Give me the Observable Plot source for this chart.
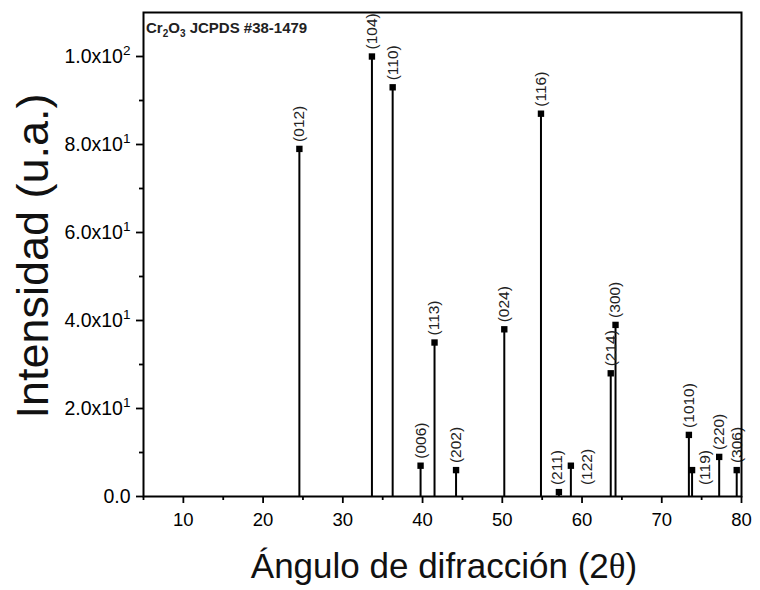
<!DOCTYPE html>
<html><head><meta charset="utf-8">
<script src="https://cdn.jsdelivr.net/npm/d3@7"></script>
<script src="https://cdn.jsdelivr.net/npm/@observablehq/plot@0.6"></script>
<style>body{margin:0;background:#fff;} svg{overflow:visible;}</style>
</head><body><div id="chart"></div>
<script>
const planes = ["(012)","(104)","(110)","(006)","(113)","(202)","(024)","(116)","(211)","(122)","(214)","(300)","(1010)","(119)","(220)","(306)"];
const twoTheta = [24.55,33.65,36.25,39.75,41.5,44.2,50.25,54.85,57.1,58.6,63.6,64.2,73.4,73.8,77.2,79.4];
const intensity = [79,100,93,7,35,6,38,87,1,7,28,39,14,6,9,6];
const labelX = [24.55,33.65,36.25,39.75,41.5,44.2,50.25,54.85,56.9,60.6,63.6,64.2,73.4,75.4,77.2,79.4];
const labelY = [79,100,93,7,35,6,38,87,1,1,28,39,14,1,9,6];
const xTicks = [10,20,30,40,50,60,70,80];
const xMinor = [5,15,25,35,45,55,65,75];
const yTicks = [0,20,40,60,80,100];
const yMinor = [10,30,50,70,90];
const yTickMantissa = ["0.0","2.0","4.0","6.0","8.0","1.0"];
const yTickExponent = ["","1","1","1","1","2"];

const peaks = planes.map((p,i)=>({plane:p, x:twoTheta[i], y:intensity[i], lx:labelX[i], ly:labelY[i]}));
const ff = "'Liberation Sans', Arial, sans-serif";

const chart = Plot.plot({
  width: 760, height: 590,
  marginLeft: 143, marginRight: 19, marginTop: 12, marginBottom: 94,
  style: {fontFamily: ff, background: "#fff", overflow: "visible"},
  x: {domain: [5, 80]},
  y: {domain: [0, 110]},
  marks: [
    Plot.ruleX(peaks, {x: "x", y1: 0, y2: "y", stroke: "#000", strokeWidth: 2}),
    Plot.dot(peaks, {x: "x", y: "y", symbol: "square", r: 3.6, fill: "#000", stroke: null}),
    Plot.text(peaks, {x: "lx", y: "ly", text: "plane", rotate: -90, textAnchor: "start", dy: -7, fontSize: 15.5, fill: "#222", clip: false}),
    Plot.axisX({ticks: xTicks, tickSize: 7, tickPadding: 9, fontSize: 18.5, strokeWidth: 1.8, label: null}),
    Plot.axisX({ticks: xMinor, tickSize: 4, text: null, strokeWidth: 1.8, label: null}),
    Plot.axisY({ticks: yTicks, tickSize: 7, tickPadding: 6, fontSize: 19.5, strokeWidth: 1.8, label: null,
      tickFormat: (d) => { const i = yTicks.indexOf(d); return yTickExponent[i] ? yTickMantissa[i] + "x10^" + yTickExponent[i] : yTickMantissa[i]; }}),
    Plot.axisY({ticks: yMinor, tickSize: 4, text: null, strokeWidth: 1.8, label: null}),
    Plot.frame({stroke: "#000", strokeWidth: 2})
  ]
});
document.getElementById("chart").appendChild(chart);

const svg = d3.select(chart);
// rebuild y tick labels with real superscripts
svg.selectAll("text").each(function() {
  const el = d3.select(this);
  const s = el.text();
  const m = /^(.*x10)\^(\d)$/.exec(s);
  if (m) {
    el.text("");
    el.append("tspan").text(m[1]);
    el.append("tspan").text(m[2]).attr("font-size", 13.5).attr("dy", "-0.55em");
  }
});
// inset title
const t = svg.append("text").attr("x", 146).attr("y", 33).attr("text-anchor", "start").attr("font-family", ff)
  .attr("font-size", 15).attr("font-weight", "bold").attr("fill", "#222");
t.append("tspan").text("Cr");
t.append("tspan").text("2").attr("font-size", 10).attr("dy", 4);
t.append("tspan").text("O").attr("dy", -4);
t.append("tspan").text("3").attr("font-size", 10).attr("dy", 4);
t.append("tspan").text(" JCPDS #38-1479").attr("dy", -4);
// y axis label
svg.append("text").attr("transform", "translate(48,256) rotate(-90)").attr("text-anchor", "middle")
  .attr("font-family", ff).attr("font-size", 45).attr("fill", "#111").text("Intensidad (u.a.)");
// x axis label
const xl = svg.append("text").attr("x", 444).attr("y", 578).attr("text-anchor", "middle")
  .attr("font-family", ff).attr("font-size", 35).attr("fill", "#111");
xl.append("tspan").text("Ángulo de difracción (2");
xl.append("tspan").text("θ").attr("font-family", "'Liberation Serif', 'Times New Roman', serif");
xl.append("tspan").text(")");
</script>
</body></html>
